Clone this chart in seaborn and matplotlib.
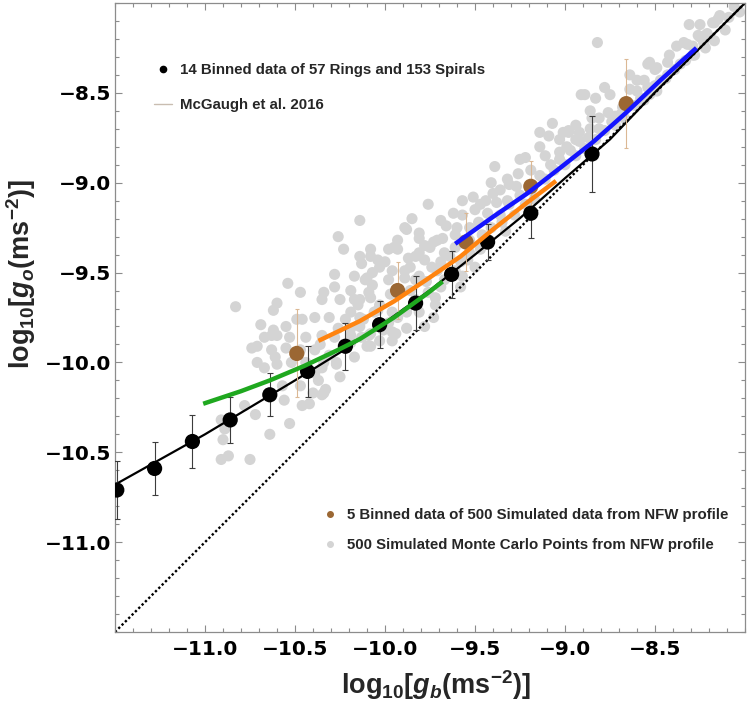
import matplotlib
matplotlib.use("Agg")
import matplotlib.pyplot as plt
from matplotlib.lines import Line2D
from matplotlib.ticker import FixedLocator, FixedFormatter, MultipleLocator
import seaborn as sns

# ---------------- data ----------------
# 14 binned data of 57 rings and 153 spirals (visible bins)
bin_x = [-11.49, -11.28, -11.07, -10.86, -10.64, -10.43, -10.22, -10.03, -9.83, -9.63, -9.43, -9.19, -8.85]
bin_y = [-10.71, -10.59, -10.44, -10.32, -10.18, -10.05, -9.91, -9.79, -9.67, -9.51, -9.33, -9.17, -8.84]
bin_err = [0.16, 0.15, 0.146, 0.13, 0.12, 0.14, 0.13, 0.13, 0.15, 0.13, 0.10, 0.14, 0.21]

# 5 binned data of the NFW simulation
nfw_x = [-10.49, -9.93, -9.55, -9.19, -8.66]
nfw_y = [-9.95, -9.60, -9.33, -9.02, -8.56]
nfw_err = [0.245, 0.16, 0.163, 0.14, 0.248]

# Monte Carlo points (NFW profile)
mc_x = [
    -10.91, -10.87, -10.75, -10.90, -10.89, -10.91, -10.78, -10.72, -10.64, -10.53,
    -10.46, -10.42, -10.40, -10.34, -10.25, -10.27, -10.34, -10.67, -10.71, -10.60,
    -10.57, -10.33, -10.35, -10.74, -10.71, -10.67, -10.63, -10.60, -10.61, -10.63,
    -10.55, -10.53, -10.44, -10.39, -10.44, -10.39, -10.35, -10.27, -10.17, -10.19,
    -10.08, -10.09, -9.94, -10.35, -10.28, -10.60, -10.62, -10.49, -10.47, -10.54,
    -10.34, -10.28, -10.26, -10.23, -10.28, -10.17, -10.10, -10.13, -10.08, -10.03,
    -10.31, -10.19, -10.17, -10.09, -10.12, -10.06, -9.98, -9.96, -9.89, -9.88,
    -9.95, -10.69, -10.83, -9.81, -9.71, -9.69, -9.98, -9.93, -9.78, -9.74,
    -9.83, -10.35, -10.39, -10.46, -10.55, -10.62, -10.26, -10.19, -10.14, -9.89,
    -9.81, -9.73, -9.66, -9.62, -9.57, -9.51, -9.41, -9.40, -9.38, -9.32,
    -9.27, -9.43, -9.48, -9.53, -9.60, -9.68, -9.75, -9.81, -9.87, -10.08,
    -10.04, -10.14, -10.11, -10.07, -9.86, -9.81, -9.77, -9.71, -9.64, -9.58,
    -9.53, -9.50, -9.57, -9.69, -9.86, -9.97, -10.08, -10.04, -9.96, -9.88,
    -9.81, -9.72, -9.72, -9.58, -9.98, -9.96, -9.88, -9.78, -9.73, -10.08,
    -10.03, -9.96, -10.10, -10.14, -10.14, -9.39, -9.32, -9.26, -9.22, -9.14,
    -9.09, -9.07, -9.14, -8.98, -8.89, -8.83, -8.78, -8.82, -8.72, -8.68,
    -8.60, -8.53, -8.49, -8.38, -8.31, -8.32, -8.17, -8.15, -8.06, -8.22,
    -8.26, -8.91, -8.54, -8.43, -8.50, -8.60, -8.64, -8.34, -8.29, -8.18,
    -8.47, -8.76, -8.81, -8.85, -8.92, -8.98, -9.01, -8.99, -9.03, -8.92,
    -8.87, -8.54, -8.49, -8.25, -8.21, -8.23, -9.36, -9.31, -9.25, -9.19,
    -9.14, -9.08, -9.03, -8.97, -8.94, -8.86, -8.81, -8.74, -8.69, -8.64,
    -8.58, -8.53, -8.44, -8.39, -8.33, -8.28, -8.22, -8.17, -8.11, -8.09,
    -8.03, -9.46, -9.41, -9.35, -9.56, -9.61, -9.67, -9.44, -9.50,
    -10.22, -10.15, -10.07, -10.00, -9.93, -9.85, -9.76, -10.19, -10.13, -10.01,
    -9.93, -9.83, -9.76, -9.67, -9.61, -9.54, -9.47, -9.42, -9.33, -9.28,
    -9.22, -9.17, -9.11, -9.06, -9.00, -8.94, -8.89, -8.83, -8.78, -8.72,
    -8.67, -8.61, -8.56, -8.50, -8.43, -8.36, -8.29, -10.36, -10.31, -10.47,
    -10.52, -10.37, -10.47, -10.56, -10.25, -10.19, -10.14, -10.03, -9.94, -9.89,
    -9.83, -9.78, -9.69, -9.61, -9.53, -9.57, -9.47, -9.36, -9.31, -9.19,
    -9.25, -9.11, -9.03, -8.94, -8.86, -8.75, -8.64, -8.56, -8.42, -8.25,
    -8.14]
mc_y = [
    -10.54, -10.52, -10.54, -10.43, -10.37, -10.32, -10.24, -10.29, -10.40, -10.34,
    -10.24, -10.23, -10.17, -10.17, -10.08, -10.01, -10.00, -10.03, -10.00, -10.01,
    -10.13, -10.15, -10.18, -9.92, -9.91, -9.86, -9.85, -9.85, -9.97, -9.93,
    -9.92, -9.86, -9.86, -9.93, -10.00, -10.06, -10.03, -10.00, -9.97, -9.89,
    -9.91, -9.85, -9.84, -9.85, -9.86, -9.67, -9.71, -9.76, -9.61, -9.56,
    -9.61, -9.58, -9.30, -9.37, -9.51, -9.52, -9.53, -9.45, -9.41, -9.47,
    -9.75, -9.72, -9.65, -9.61, -9.76, -9.72, -9.54, -9.49, -9.53, -9.26,
    -9.36, -9.79, -9.69, -9.28, -9.32, -9.21, -9.37, -9.37, -9.43, -9.47,
    -9.41, -9.65, -9.75, -9.76, -9.80, -9.82, -9.81, -9.81, -9.21, -9.25,
    -9.31, -9.33, -9.24, -9.17, -9.10, -9.08, -9.00, -9.06, -9.11, -9.10,
    -9.02, -9.17, -9.22, -9.25, -9.25, -9.31, -9.36, -9.39, -9.42, -9.37,
    -9.43, -9.41, -9.54, -9.50, -9.47, -9.52, -9.55, -9.49, -9.41, -9.44,
    -9.39, -9.47, -9.52, -9.58, -9.60, -9.62, -9.64, -9.71, -9.72, -9.72,
    -9.72, -9.68, -9.64, -9.58, -9.78, -9.83, -9.81, -9.80, -9.75, -9.84,
    -9.88, -9.88, -9.91, -9.80, -9.75, -8.91, -8.98, -8.95, -8.86, -8.72,
    -8.74, -8.67, -8.80, -8.72, -8.51, -8.53, -8.47, -8.22, -8.63, -8.58,
    -8.43, -8.33, -8.36, -8.24, -8.12, -8.23, -8.11, -8.09, -8.02, -8.18,
    -8.18, -8.51, -8.34, -8.33, -8.37, -8.49, -8.48, -8.22, -8.24, -8.11,
    -8.43, -8.61, -8.64, -8.64, -8.72, -8.71, -8.72, -8.80, -8.83, -8.77,
    -8.75, -8.47, -8.49, -8.19, -8.17, -8.22, -9.18, -9.12, -9.07, -9.04,
    -8.96, -8.90, -8.87, -8.82, -8.76, -8.70, -8.70, -8.66, -8.62, -8.57,
    -8.53, -8.51, -8.42, -8.37, -8.32, -8.29, -8.25, -8.21, -8.15, -8.08,
    -8.05, -9.29, -9.25, -9.22, -9.32, -9.36, -9.39, -9.10, -9.15,
    -9.76, -9.68, -9.57, -9.44, -9.32, -9.20, -9.12, -9.85, -9.86, -9.82,
    -9.75, -9.65, -9.61, -9.54, -9.49, -9.43, -9.37, -9.32, -9.27, -9.18,
    -9.12, -9.09, -8.98, -8.93, -8.90, -8.85, -8.81, -8.76, -8.71, -8.68,
    -8.64, -8.57, -8.54, -8.46, -8.40, -8.34, -8.29, -9.90, -9.96, -9.93,
    -10.00, -10.10, -10.13, -10.21, -9.65, -9.60, -9.65, -9.68, -9.60, -9.49,
    -9.54, -9.35, -9.44, -9.29, -9.32, -9.18, -9.12, -9.04, -9.01, -8.93,
    -8.87, -8.85, -8.76, -8.68, -8.60, -8.51, -8.40, -8.43, -8.29, -8.12,
    -8.07]

# McGaugh et al. 2016 relation
mcgaugh_x = [-11.5, -11.25, -11.0, -10.75, -10.5, -10.25, -10.0, -9.75, -9.5, -9.25, -9.0, -8.75, -8.5, -8.25, -8.0]
mcgaugh_y = [-10.68, -10.54, -10.40, -10.25, -10.10, -9.945, -9.777, -9.598, -9.40, -9.197, -8.975, -8.759, -8.497, -8.25, -8.0]

# one-to-one line
unity = [-11.5, -8.0]

# model curves
green_x = [-11.01, -10.80, -10.64, -10.45, -10.26, -10.14, -9.95, -9.77, -9.68]
green_y = [-10.23, -10.16, -10.10, -10.02, -9.93, -9.87, -9.75, -9.62, -9.55]
orange_x = [-10.37, -10.14, -9.95, -9.77, -9.58, -9.40, -9.21, -9.05]
orange_y = [-9.88, -9.77, -9.66, -9.54, -9.41, -9.26, -9.11, -8.99]
blue_x = [-9.61, -9.40, -9.21, -9.03, -8.84, -8.66, -8.47, -8.27]
blue_y = [-9.34, -9.19, -9.06, -8.92, -8.77, -8.61, -8.43, -8.25]

tick_vals = [-11.0, -10.5, -10.0, -9.5, -9.0, -8.5]
tick_labels = ["\u221211.0", "\u221210.5", "\u221210.0", "\u22129.5", "\u22129.0", "\u22128.5"]

legend1_labels = ["14 Binned data of 57 Rings and 153 Spirals", "McGaugh et al. 2016"]
legend2_labels = ["5 Binned data of 500 Simulated data from NFW profile",
                  "500 Simulated Monte Carlo Points from NFW profile"]

# ---------------- style ----------------
sns.set_theme(style="white")
plt.rcParams.update({
    "font.family": ["DejaVu Sans"],
    "mathtext.fontset": "custom",
    "mathtext.rm": "Liberation Sans:bold",
    "mathtext.it": "Liberation Sans:bold:italic",
    "mathtext.bf": "Liberation Sans:bold",
    "mathtext.sf": "Liberation Sans:bold",
})

C_GRAY = "#d4d4d4"
C_BROWN = "#9b6733"
C_BROWN_ERR = "#dbb894"
C_GREEN = "#1fa81f"
C_ORANGE = "#ff8410"
C_BLUE = "#1414ff"
FRAME = "#8c8c8c"

fig = plt.figure(figsize=(7.47, 7.09), dpi=100)
ax = fig.add_axes([115 / 747, 77 / 709, 630 / 747, 629 / 709])

# gray Monte Carlo cloud
sns.scatterplot(x=mc_x, y=mc_y, color=C_GRAY, s=64, edgecolor="none", linewidth=0,
                ax=ax, zorder=1, legend=False)

# McGaugh relation and 1:1 line
sns.lineplot(x=mcgaugh_x, y=mcgaugh_y, color="black", lw=1.6, sort=False,
             estimator=None, ax=ax, zorder=2)
sns.lineplot(x=unity, y=unity, color="black", lw=1.7, sort=False, estimator=None,
             ax=ax, zorder=2, linestyle=(0, (1, 1)))

# error bars
ax.errorbar(bin_x, bin_y, yerr=bin_err, fmt="none", ecolor="#3c3c3c",
            elinewidth=0.8, capsize=2, capthick=0.8, zorder=3)
ax.errorbar(nfw_x, nfw_y, yerr=nfw_err, fmt="none", ecolor=C_BROWN_ERR,
            elinewidth=0.8, capsize=1.5, capthick=0.8, zorder=3)

# binned points
sns.scatterplot(x=nfw_x, y=nfw_y, color=C_BROWN, s=120, edgecolor="none", linewidth=0,
                ax=ax, zorder=4, legend=False)
sns.scatterplot(x=bin_x, y=bin_y, color="black", s=120, edgecolor="none", linewidth=0,
                ax=ax, zorder=4, legend=False)

# model curves
for cx, cy, col in [(green_x, green_y, C_GREEN), (orange_x, orange_y, C_ORANGE),
                    (blue_x, blue_y, C_BLUE)]:
    sns.lineplot(x=cx, y=cy, color=col, lw=3.2, sort=False, estimator=None, ax=ax,
                 zorder=5, solid_capstyle="butt")

# ---------------- axes ----------------
ax.set_xlim(-11.5, -8.0)
ax.set_ylim(-11.5, -8.0)
for axis in (ax.xaxis, ax.yaxis):
    axis.set_major_locator(FixedLocator(tick_vals))
    axis.set_major_formatter(FixedFormatter(tick_labels))
    axis.set_minor_locator(MultipleLocator(0.1))
ax.tick_params(which="both", direction="in", top=True, right=True, bottom=True, left=True,
               color=FRAME, width=0.8)
ax.tick_params(which="major", length=5, labelsize=14.5, pad=3)
ax.tick_params(which="minor", length=3)
ax.tick_params(axis="x", which="major", pad=6)
for lab in ax.get_xticklabels() + ax.get_yticklabels():
    lab.set_fontweight("bold")
    lab.set_color("black")
for sp in ax.spines.values():
    sp.set_color(FRAME)
    sp.set_linewidth(0.9)
ax.grid(False)

ax.set_xlabel(r"$\mathrm{log_{10}[}g_{b}\mathrm{(ms^{-2})]}$", fontsize=19.5)
ax.set_ylabel(r"$\mathrm{log_{10}[}g_{o}\mathrm{(ms^{-2})]}$", fontsize=19.5)
ax.xaxis.set_label_coords(0.51, -0.058)
ax.yaxis.set_label_coords(-0.122, 0.57)

# ---------------- legends ----------------
leg_font = {"family": "Liberation Sans", "weight": "bold", "size": 10.8}
h1 = Line2D([], [], marker="o", color="black", ls="none", markersize=4.5)
h2 = Line2D([], [], color="#c9bdb1", lw=1.0)
leg1 = ax.legend([h1, h2], legend1_labels, loc="upper left", bbox_to_anchor=(0.062, 0.905),
                 frameon=False, prop=leg_font, handlelength=1.2, handletextpad=0.5,
                 labelspacing=1.4, borderpad=0, borderaxespad=0)
ax.add_artist(leg1)
h3 = Line2D([], [], marker="o", color=C_BROWN, ls="none", markersize=4)
h4 = Line2D([], [], marker="o", color=C_GRAY, ls="none", markersize=4)
ax.legend([h3, h4], legend2_labels, loc="upper left", bbox_to_anchor=(0.327, 0.197),
          frameon=False, prop=leg_font, handlelength=1.2, handletextpad=0.5,
          labelspacing=1.05, borderpad=0, borderaxespad=0)

fig.savefig("out.png", dpi=100)
